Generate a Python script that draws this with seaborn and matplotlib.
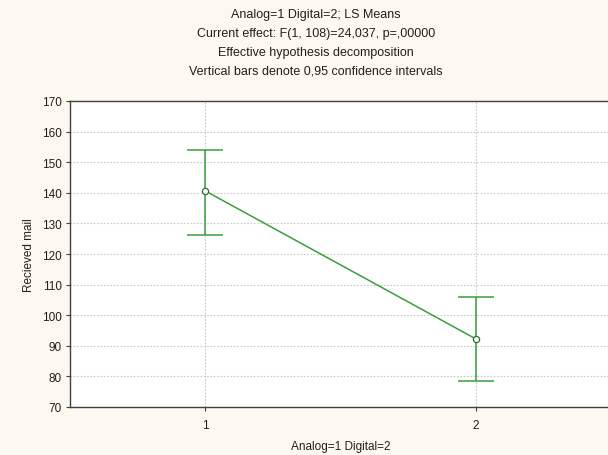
import numpy as np
import pandas as pd
import matplotlib
matplotlib.use("Agg")
import matplotlib.pyplot as plt
import seaborn as sns

# Data
groups = [1, 2]
ls_means = [140.6, 92.2]
ci_upper = [154.1, 105.8]
ci_lower = [126.3, 78.4]

title_lines = [
    "Analog=1 Digital=2; LS Means",
    "Current effect: F(1, 108)=24,037, p=,00000",
    "Effective hypothesis decomposition",
    "Vertical bars denote 0,95 confidence intervals",
]

df = pd.DataFrame({"group": groups, "mean": ls_means,
                   "lo": ci_lower, "hi": ci_upper})

sns.set_style("white")
plt.rcParams["font.family"] = ["Liberation Sans", "DejaVu Sans"]

bg = "#fdf9f0"
green = "#3a9e3a"

fig = plt.figure(figsize=(6.08, 4.56), dpi=100, facecolor=bg)
ax = fig.add_axes([70 / 608, 48 / 456, 541.5 / 608, 306 / 456])
ax.set_facecolor("white")

sns.lineplot(data=df, x="group", y="mean", ax=ax, color=green, linewidth=1.1,
             marker="o", markersize=4.5, markerfacecolor="white",
             markeredgecolor="#2f6f2f", markeredgewidth=0.9, zorder=4)
ax.errorbar(df["group"], df["mean"],
            yerr=[df["mean"] - df["lo"], df["hi"] - df["mean"]],
            fmt="none", ecolor=green, elinewidth=1.1, capsize=13,
            capthick=1.1, zorder=3)

ax.set_xlim(0.5, 2.5)
ax.set_ylim(70, 170)
ax.set_xticks(groups)
ax.set_xticklabels([str(g) for g in groups])
ax.set_yticks(np.arange(70, 171, 10))
ax.grid(True, color="#c8c8c8", linestyle=(0, (1.5, 1.5)), linewidth=0.8)
ax.set_axisbelow(True)

for side in ["left", "bottom", "top", "right"]:
    ax.spines[side].set_color("#404040")
    ax.spines[side].set_linewidth(1.0)
ax.tick_params(axis="both", direction="out", length=3, width=0.8,
               color="#404040", labelsize=8.5, labelcolor="#202020", pad=3,
               bottom=True, left=True)
ax.tick_params(axis="x", pad=6)

ax.set_xlabel("Analog=1 Digital=2", fontsize=8.5, color="#202020", labelpad=6)
ax.set_ylabel("Recieved mail", fontsize=8.5, color="#202020", labelpad=5)

for i, line in enumerate(title_lines):
    fig.text(316 / 608, 1 - (15 + 19 * i) / 456, line, ha="center",
             va="center", fontsize=9, color="#202020")

fig.savefig("out.png", dpi=100, facecolor=bg)
